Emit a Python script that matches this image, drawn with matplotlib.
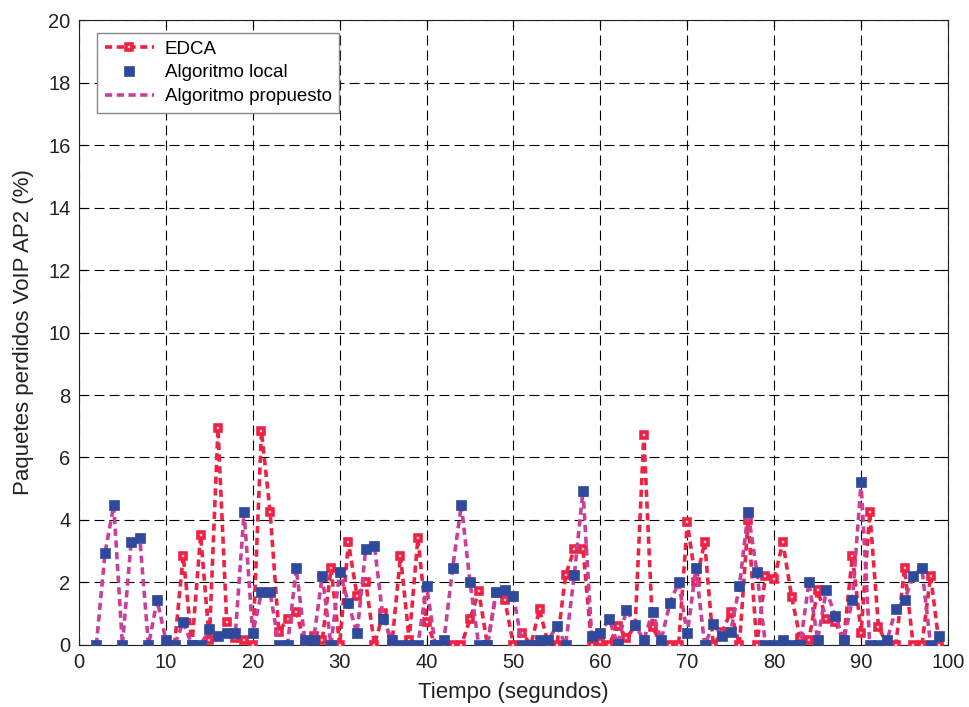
import numpy as np
import matplotlib
matplotlib.use("Agg")
import matplotlib.pyplot as plt
from matplotlib.lines import Line2D

plt.rcParams['font.family'] = ['Liberation Sans', 'DejaVu Sans']

# Tiempo (s)
tiempo = list(range(2, 100))

nan = np.nan
# Pérdidas de paquetes VoIP en AP2 (%) con EDCA
edca = [nan, nan, nan, nan, nan, nan, nan, nan, nan,            # 2-10
        0.00, 2.86, 0.00, 3.52, 0.16, 6.94, 0.75, 0.21, 0.16, 0.00,  # 11-20
        6.84, 4.25, 0.43, 0.82, 1.07, 0.00, 0.28, 0.16, 2.45, 0.00,  # 21-30
        3.29, 1.58, 2.01, 0.00, 1.01, 0.00, 2.86, 0.16, 3.42, 0.74,  # 31-40
        0.00, 0.00, 0.00, 0.00, 0.82, 1.72, 0.00, 1.65, 1.44, 0.00,  # 41-50
        0.39, 0.00, 1.15, 0.00, 0.00, 2.24, 3.07, 3.07, 0.00, 0.10,  # 51-60
        0.00, 0.62, 0.23, 0.60, 6.73, 0.59, 0.00, 0.00, 0.00, 3.92,  # 61-70
        2.01, 3.29, 0.00, 0.40, 1.07, 0.00, 4.00, 0.00, 2.22, 2.12,  # 71-80
        3.29, 1.55, 0.21, 0.16, 1.76, 0.82, 0.73, 0.16, 2.86, 0.39,  # 81-90
        4.25, 0.59, 0.00, 0.00, 2.45, 0.00, 0.00, 2.22, 0.00]        # 91-99

# Pérdidas con el algoritmo local
local = [0.00, 2.95, 4.47, 0.00, 3.29, 3.41, 0.00, 1.44, 0.16,      # 2-10
         0.00, 0.74, 0.00, 0.00, 0.50, 0.30, 0.37, 0.37, 4.25, 0.37,  # 11-20
         1.68, 1.68, 0.00, 0.00, 2.45, 0.16, 0.16, 2.22, 0.00, 2.35,  # 21-30
         1.34, 0.37, 3.07, 3.18, 0.83, 0.16, 0.00, 0.00, 0.00, 1.89,  # 31-40
         0.00, 0.16, 2.46, 4.49, 2.01, 0.00, 0.00, 1.70, 1.76, 1.57,  # 41-50
         0.00, 0.00, 0.16, 0.16, 0.61, 0.00, 2.24, 4.94, 0.28, 0.39,  # 51-60
         0.82, 0.03, 1.13, 0.63, 0.16, 1.05, 0.16, 1.34, 2.01, 0.37,  # 61-70
         2.45, 0.00, 0.66, 0.30, 0.41, 1.89, 4.25, 2.35, 0.00, 0.00,  # 71-80
         0.16, 0.00, 0.00, 2.01, 0.16, 1.76, 0.94, 0.16, 1.44, 5.21,  # 81-90
         0.00, 0.00, 0.16, 1.15, 1.44, 2.22, 2.45, 0.00, 0.28]        # 91-99

# Pérdidas con el algoritmo propuesto
propuesto = [0.00, 2.95, 4.47, 0.00, 3.29, 3.41, 0.00, 1.44, 0.16,      # 2-10
             0.00, 0.74, 0.00, 0.00, 0.50, 0.30, 0.37, 0.37, 4.25, 0.37,  # 11-20
             1.68, 1.68, 0.00, 0.00, 2.45, 0.16, 0.16, 2.22, 0.00, 2.35,  # 21-30
             1.34, 0.37, 3.07, 3.18, 0.83, 0.16, 0.00, 0.00, 0.00, 1.89,  # 31-40
             0.00, 0.16, 2.46, 4.49, 2.01, 0.00, 0.00, 1.70, 1.76, 1.57,  # 41-50
             0.00, 0.00, 0.16, 0.16, 0.61, 0.00, 2.24, 4.94, 0.28, 0.39,  # 51-60
             0.82, 0.03, 1.13, 0.63, 0.16, 1.05, 0.16, 1.34, 2.01, 0.37,  # 61-70
             2.45, 0.00, 0.66, 0.30, 0.41, 1.89, 4.25, 2.35, 0.00, 0.00,  # 71-80
             0.16, 0.00, 0.00, 2.01, 0.16, 1.76, 0.94, 0.16, 1.44, 5.21,  # 81-90
             0.00, 0.00, 0.16, 1.15, 1.44, 2.22, 2.45, 0.00, 0.28]        # 91-99

xticks = list(range(0, 101, 10))
yticks = list(range(0, 21, 2))

RED = '#ee2244'
BLUE = '#2f4a9c'
MAGENTA = '#c8409a'
DASH = (0, (2.0, 1.25))
LW = 2.6

fig = plt.figure(figsize=(9.70, 7.07), dpi=100)
ax = fig.add_axes([0.0814, 0.0877, 0.8959, 0.884])

edca_style = dict(color=RED, lw=LW, linestyle=DASH, marker='s', markersize=5.0,
                  markerfacecolor='#ffc8d0', markeredgecolor=RED,
                  markeredgewidth=2.6)
local_style = dict(linestyle='none', marker='s', markersize=7.4,
                   markerfacecolor=BLUE, markeredgecolor=BLUE,
                   markeredgewidth=0.5)
prop_style = dict(color=MAGENTA, lw=LW, linestyle=DASH)

ax.plot(tiempo, edca, zorder=3, **edca_style)
ax.plot(tiempo, propuesto, zorder=4, **prop_style)
ax.plot(tiempo, local, zorder=5, **local_style)

ax.set_xlim(0, 100)
ax.set_ylim(0, 20)
ax.set_xticks(xticks)
ax.set_yticks(yticks)
ax.tick_params(direction='in', length=5, width=0.8, labelsize=14.5,
               top=True, right=True, pad=6, labelcolor='#222222')
ax.grid(True, color='black', linestyle=(0, (9, 4.5)), linewidth=0.8)
for s in ax.spines.values():
    s.set_linewidth(0.8)
    s.set_color('#222222')

ax.set_xlabel('Tiempo (segundos)', fontsize=16, labelpad=7, color='#222222')
ax.set_ylabel('Paquetes perdidos VoIP AP2 (%)', fontsize=16, labelpad=10,
              color='#222222')

handles = [Line2D([], [], **edca_style),
           Line2D([], [], **local_style),
           Line2D([], [], **prop_style)]
leg = ax.legend(handles, ['EDCA', 'Algoritmo local', 'Algoritmo propuesto'],
                loc='upper left', bbox_to_anchor=(0.017, 0.985), fontsize=13.5,
                frameon=True, fancybox=False, edgecolor='#888888',
                framealpha=1, handlelength=2.6, handletextpad=0.6,
                borderpad=0.4, labelspacing=0.35, borderaxespad=0.2)
leg.get_frame().set_linewidth(1.0)

fig.savefig('out.png', dpi=100)
